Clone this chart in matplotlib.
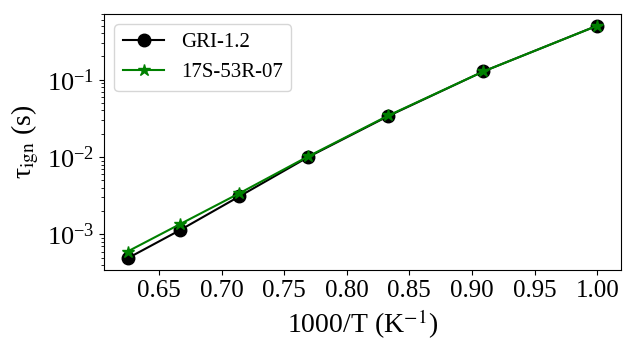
import numpy as np
import matplotlib
matplotlib.use('Agg')
import matplotlib.pyplot as plt

plt.rcParams['font.family'] = 'Liberation Serif'
plt.rcParams['mathtext.fontset'] = 'stix'

# 1000/T for T = 1600 ... 1000 K
inv_T = [1000 / 1600, 1000 / 1500, 1000 / 1400, 1000 / 1300, 1000 / 1200, 1000 / 1100, 1000 / 1000]
tau_gri = [4.9e-4, 1.13e-3, 3.1e-3, 1.0e-2, 3.4e-2, 0.128, 0.50]
tau_17s = [6.0e-4, 1.35e-3, 3.4e-3, 1.02e-2, 3.45e-2, 0.128, 0.50]
xticks = [0.65, 0.70, 0.75, 0.80, 0.85, 0.90, 0.95, 1.00]

fig, ax = plt.subplots(figsize=(6.27, 3.43), dpi=100)
ax.plot(inv_T, tau_gri, '-o', color='black', markersize=9, label='GRI-1.2')
ax.plot(inv_T, tau_17s, '-*', color='green', markersize=9, label='17S-53R-07')
ax.set_yscale('log')
ax.set_xticks(xticks)
ax.set_xticklabels(['%.2f' % t for t in xticks])
ax.set_xlabel(r'1000/T (K$^{-1}$)', fontsize=20)
ax.set_ylabel(r'τ$_{\rm ign}$ (s)', fontsize=20)
ax.tick_params(axis='x', labelsize=18)
ax.tick_params(axis='y', labelsize=19)
ax.legend(loc='upper left', fontsize=15)

fig.subplots_adjust(left=0.166, right=0.99, top=0.959, bottom=0.213)
fig.savefig('out.png')
